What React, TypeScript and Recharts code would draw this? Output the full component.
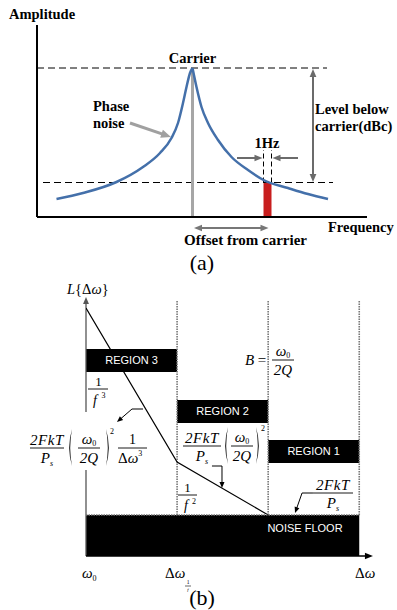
import {
  ComposedChart, Line, XAxis, YAxis, ReferenceLine, ReferenceArea,
} from 'recharts';

const SERIF = '"Liberation Serif", "Times New Roman", Times, serif';
const SANS = '"Liberation Sans", Arial, Helvetica, sans-serif';

// (a) spectrum around the carrier, offset vs amplitude (arbitrary units)
const lowerOffsets = [-136, -109.5, -76, -49.5, -32.5, -21, -14.5, -9.5, -6, -2.5, 0];
const lowerLevels = [18, 24, 35, 50, 64, 79, 94, 114, 130, 144, 149];
const upperOffsets = [0, 4, 9, 15.5, 25.5, 39, 55.5, 72, 95.5, 115.5, 135.5];
const upperLevels = [149, 130, 110, 94, 77, 60, 47, 36.5, 29, 23, 18];

const offsetRange = [-155.5, 174.5];
const ampRange = [0, 192];
const carrierLevel = 149;
const sliceLevel = 34.5;
const sliceFrom = 71;
const sliceTo = 79;

// (b) asymptotic phase-noise regions
const regionNames = ['REGION 3', 'REGION 2', 'REGION 1'];
const regionEdges = [0, 1, 2, 3];
const regionTops = [103.5, 78, 58];
const regionBottoms = [92, 66.5, 46.5];
const asymOffsets = [0, 1, 2];
const asymLevels = [124, 47, 20.5];
const noiseFloor = 20.5;

const zip = (xs: number[], ys: number[], kx: string, ky: string) =>
  xs.map((x, i) => ({ [kx]: x, [ky]: ys[i] }));

const lowerWing = zip(lowerOffsets, lowerLevels, 'f', 'amp');
const upperWing = zip(upperOffsets, upperLevels, 'f', 'amp');
const asymptote = zip(asymOffsets, asymLevels, 'off', 'lvl');

// line with filled arrow heads, used as a ReferenceLine shape
function arrow(color: string, width: number, head: number, both = false) {
  return (p: any) => {
    const { x1, y1, x2, y2 } = p;
    const a = Math.atan2(y2 - y1, x2 - x1);
    const w = head * 0.42;
    const tri = (x: number, y: number, ang: number) => {
      const bx = x - head * Math.cos(ang);
      const by = y - head * Math.sin(ang);
      return `${x},${y} ${bx + w * Math.sin(ang)},${by - w * Math.cos(ang)} ${bx - w * Math.sin(ang)},${by + w * Math.cos(ang)}`;
    };
    const ex = x2 - head * 0.8 * Math.cos(a);
    const ey = y2 - head * 0.8 * Math.sin(a);
    const sx = both ? x1 + head * 0.8 * Math.cos(a) : x1;
    const sy = both ? y1 + head * 0.8 * Math.sin(a) : y1;
    return (
      <g>
        <line x1={sx} y1={sy} x2={ex} y2={ey} stroke={color} strokeWidth={width} />
        <polygon points={tri(x2, y2, a)} fill={color} />
        {both && <polygon points={tri(x1, y1, a + Math.PI)} fill={color} />}
      </g>
    );
  };
}

function Tx({ x, y, size = 15, italic = false, bold = false, anchor = 'start', fill = '#000', family = SERIF, children }: any) {
  return (
    <text x={x} y={y} fontSize={size} fontStyle={italic ? 'italic' : 'normal'} fontWeight={bold ? 'bold' : 'normal'}
      textAnchor={anchor} fill={fill} fontFamily={family}>
      {children}
    </text>
  );
}

const Bar = ({ x1, x2, y }: any) => <line x1={x1} x2={x2} y1={y} y2={y} stroke="#000" strokeWidth={0.9} />;

function Paren({ x, y0, y1, right = false }: any) {
  const m = (y0 + y1) / 2;
  const d = right ? -1 : 1;
  return <path d={`M ${x} ${y0} Q ${x - 5.5 * d} ${m} ${x} ${y1} Q ${x - 3.6 * d} ${m} ${x} ${y0} Z`} fill="#000" />;
}

// 2FkT / Ps
function KT({ cx, y, half }: any) {
  return (
    <g>
      <text x={cx} y={y - 3.5} textAnchor="middle" fontFamily={SERIF} fontStyle="italic" fontSize={15} letterSpacing={0.6}>2FkT</text>
      <Bar x1={cx - half} x2={cx + half} y={y} />
      <text x={cx} y={y + 15} textAnchor="middle" fontFamily={SERIF} fontStyle="italic" fontSize={15}>
        P<tspan fontSize={8} dy={3}>s</tspan>
      </text>
    </g>
  );
}

// omega_0 / 2Q
function W0Q({ cx, y, half = 11 }: any) {
  return (
    <g>
      <text x={cx} y={y - 4} textAnchor="middle" fontFamily={SERIF} fontSize={15}>
        <tspan fontStyle="italic">ω</tspan><tspan fontSize={8} dy={2}>0</tspan>
      </text>
      <Bar x1={cx - half} x2={cx + half} y={y} />
      <text x={cx} y={y + 15} textAnchor="middle" fontFamily={SERIF} fontStyle="italic" fontSize={15}>2Q</text>
    </g>
  );
}

export default function App() {
  const [f0, f1] = offsetRange;
  const [a0, a1] = ampRange;
  return (
    <div style={{ position: 'absolute', left: 0, top: 0, width: 397, height: 610, background: '#fff' }}>
      <div style={{ position: 'absolute', left: 0, top: 0 }}>
        <ComposedChart width={397} height={280} margin={{ top: 25, right: 30, bottom: 63, left: 37 }}>
          <XAxis dataKey="f" type="number" domain={offsetRange} allowDataOverflow tick={false} tickLine={false} axisLine={false} height={0} />
          <YAxis type="number" domain={ampRange} allowDataOverflow tick={false} tickLine={false} axisLine={false} width={0} />
          <ReferenceArea x1={sliceFrom} x2={sliceTo} y1={0} y2={sliceLevel} fill="#c81e1e" fillOpacity={1} stroke="none" />
          <ReferenceLine segment={[{ x: f0, y: carrierLevel }, { x: 134.5, y: carrierLevel }]} stroke="#000" strokeDasharray="7 4" strokeWidth={1} />
          <ReferenceLine segment={[{ x: -149.5, y: sliceLevel }, { x: 140.5, y: sliceLevel }]} stroke="#000" strokeDasharray="7 4" strokeWidth={1} />
          <ReferenceLine segment={[{ x: sliceFrom, y: sliceLevel }, { x: sliceFrom, y: 67 }]} stroke="#000" strokeDasharray="5 3" strokeWidth={1} />
          <ReferenceLine segment={[{ x: sliceTo, y: sliceLevel }, { x: sliceTo, y: 67 }]} stroke="#000" strokeDasharray="5 3" strokeWidth={1} />
          <ReferenceLine segment={[{ x: 0, y: a0 }, { x: 0, y: carrierLevel }]} stroke="#a6a6a6" strokeWidth={3} />
          {/* axes */}
          <ReferenceLine segment={[{ x: f0, y: a0 }, { x: f0, y: a1 }]} stroke="#000" strokeWidth={2} />
          <ReferenceLine segment={[{ x: f0, y: a0 }, { x: f1, y: a0 }]} stroke="#000" strokeWidth={2} />
          <Line data={lowerWing} dataKey="amp" type="monotone" stroke="#4470aa" strokeWidth={2.5} dot={false} isAnimationActive={false} />
          <Line data={upperWing} dataKey="amp" type="monotone" stroke="#4470aa" strokeWidth={2.5} dot={false} isAnimationActive={false} />
          <ReferenceLine segment={[{ x: -62.5, y: 94 }, { x: -21.5, y: 80 }]} shape={arrow('#a0a0a0', 3, 10)} />
          <ReferenceLine segment={[{ x: 120.5, y: 148 }, { x: 120.5, y: 35 }]} shape={arrow('#6b6b6b', 2, 8, true)} />
          <ReferenceLine segment={[{ x: 44.5, y: 59 }, { x: 70, y: 59 }]} shape={arrow('#6b6b6b', 2, 8)} />
          <ReferenceLine segment={[{ x: 105.5, y: 59 }, { x: 80, y: 59 }]} shape={arrow('#6b6b6b', 2, 8)} />
          <ReferenceLine segment={[{ x: 1.5, y: -11 }, { x: 76, y: -11 }]} ifOverflow="visible" shape={arrow('#777', 2, 8, true)} />
        </ComposedChart>
      </div>

      <div style={{ position: 'absolute', left: 0, top: 280 }}>
        <ComposedChart width={397} height={330} margin={{ top: 20, right: 25, bottom: 54, left: 86 }}>
          <XAxis dataKey="off" type="number" domain={[0, 3.14]} allowDataOverflow tick={false} tickLine={false} axisLine={false} height={0} />
          <YAxis type="number" domain={[0, 128]} allowDataOverflow tick={false} tickLine={false} axisLine={false} width={0} />
          {regionEdges.slice(1).map((e) => (
            <ReferenceLine key={e} segment={[{ x: e, y: noiseFloor }, { x: e, y: 128 }]} stroke="#777" strokeDasharray="1.5 1" strokeWidth={1.6} />
          ))}
          <ReferenceLine segment={[{ x: 0, y: 0 }, { x: 0, y: 129.5 }]} ifOverflow="visible" shape={arrow('#555', 1.3, 7)} />
          <Line data={asymptote} dataKey="lvl" type="linear" stroke="#000" strokeWidth={1.2} dot={false} isAnimationActive={false} />
          {regionNames.map((name, i) => (
            <ReferenceArea key={name} x1={regionEdges[i]} x2={regionEdges[i + 1]} y1={regionBottoms[i]} y2={regionTops[i]}
              fill="#000" fillOpacity={1} stroke="none"
              label={{ value: name, position: 'center', fill: '#fff', fontSize: 11, fontFamily: SANS }} />
          ))}
          <ReferenceArea x1={regionEdges[0]} x2={regionEdges[3]} y1={0} y2={noiseFloor} fill="#000" fillOpacity={1} stroke="none" />
          <ReferenceLine segment={[{ x: 0, y: noiseFloor }, { x: 3, y: noiseFloor }]} stroke="#777" strokeDasharray="1.5 1" strokeWidth={1.6} />
          <ReferenceLine segment={[{ x: 0, y: 0 }, { x: 3.15, y: 0 }]} ifOverflow="visible" shape={arrow('#000', 1.5, 8)} />
          <ReferenceLine segment={[{ x: 0.626, y: 73.5 }, { x: 0.505, y: 73.5 }]} stroke="#000" strokeWidth={1} />
          <ReferenceLine segment={[{ x: 0.505, y: 73.5 }, { x: 0.34, y: 67 }]} shape={arrow('#000', 1, 6)} />
          <ReferenceLine segment={[{ x: 1.383, y: 45 }, { x: 1.493, y: 45 }]} stroke="#000" strokeWidth={1} />
          <ReferenceLine segment={[{ x: 1.493, y: 45 }, { x: 1.493, y: 34 }]} shape={arrow('#000', 1, 6)} />
          <ReferenceLine segment={[{ x: 2.492, y: 31.5 }, { x: 2.372, y: 31.5 }]} stroke="#000" strokeWidth={1} />
          <ReferenceLine segment={[{ x: 2.372, y: 31.5 }, { x: 2.295, y: 21.5 }]} shape={arrow('#000', 1, 6)} />
        </ComposedChart>
      </div>

      <svg width={397} height={610} style={{ position: 'absolute', left: 0, top: 0, pointerEvents: 'none' }}>
        {/* (a) labels */}
        <Tx x={9} y={19} size={14.5} bold>Amplitude</Tx>
        <Tx x={192.5} y={63} size={14.5} bold anchor="middle">Carrier</Tx>
        <Tx x={93} y={111} size={14.5} bold>Phase</Tx>
        <Tx x={93} y={128} size={14.5} bold>noise</Tx>
        <Tx x={267} y={148} size={14.5} bold anchor="middle">1Hz</Tx>
        <Tx x={315} y={114} size={14.5} bold>Level below</Tx>
        <Tx x={315} y={131} size={14.5} bold>carrier(dBc)</Tx>
        <Tx x={328} y={232} size={14.5} bold>Frequency</Tx>
        <Tx x={245.5} y={245} size={15} bold anchor="middle">Offset from carrier</Tx>
        <Tx x={202} y={270} size={22} anchor="middle">(a)</Tx>

        {/* (b) labels */}
        <text x={67} y={294} fontFamily={SERIF} fontSize={14.5}>
          <tspan fontStyle="italic">L</tspan>{'{Δ'}<tspan fontStyle="italic">ω</tspan>{'}'}
        </text>

        <Tx x={98.5} y={386} size={13} anchor="middle">1</Tx>
        <Bar x1={88} x2={108} y={389} />
        <Tx x={95} y={405} size={14} italic anchor="middle">f</Tx>
        <Tx x={101.5} y={398} size={8}>3</Tx>

        <Tx x={187.5} y={492} size={13} anchor="middle">1</Tx>
        <Bar x1={178} x2={197} y={495} />
        <Tx x={186} y={510} size={14} italic anchor="middle">f</Tx>
        <Tx x={192} y={504} size={8}>2</Tx>

        <Tx x={245} y={365} size={15} italic>B</Tx>
        <Tx x={262} y={365} size={15} anchor="middle">=</Tx>
        <W0Q cx={283} y={360} />

        {/* region 3 expression, over the axis */}
        <rect x={24} y={412} width={92} height={58} fill="#fff" />
        <KT cx={47} y={448} half={17} />
        <Paren x={72} y0={429} y1={466} />
        <W0Q cx={89} y={448} />
        <Paren x={106} y0={429} y1={466} right />
        <Tx x={110} y={434} size={8}>2</Tx>
        <Tx x={132.5} y={444} size={14} anchor="middle">1</Tx>
        <Bar x1={118} x2={147} y={448} />
        <text x={118} y={463} fontFamily={SERIF} fontSize={15}>
          Δ<tspan fontStyle="italic">ω</tspan><tspan fontSize={8} dy={-7}>3</tspan>
        </text>

        {/* region 2 expression */}
        <KT cx={202} y={446} half={19} />
        <Paren x={228} y0={427} y1={464} />
        <W0Q cx={242} y={446} />
        <Paren x={256} y0={427} y1={464} right />
        <Tx x={261} y={431} size={8}>2</Tx>

        {/* region 1 expression */}
        <KT cx={333} y={493} half={20} />

        <Tx x={305} y={532} size={11} family={SANS} fill="#fff" anchor="middle">NOISE FLOOR</Tx>

        <text x={82} y={578} fontFamily={SERIF} fontSize={15}>
          <tspan fontStyle="italic">ω</tspan><tspan fontSize={8} dy={3}>0</tspan>
        </text>
        <text x={165} y={578} fontFamily={SERIF} fontSize={15}>
          Δ<tspan fontStyle="italic">ω</tspan>
        </text>
        <Tx x={188} y={584} size={5.5} anchor="middle">1</Tx>
        <line x1={185} x2={191} y1={586} y2={586} stroke="#000" strokeWidth={0.6} />
        <Tx x={188} y={591} size={5} italic anchor="middle">f</Tx>
        <text x={355} y={578} fontFamily={SERIF} fontSize={15}>
          Δ<tspan fontStyle="italic">ω</tspan>
        </text>
        <Tx x={202} y={605} size={22} anchor="middle">(b)</Tx>
      </svg>
    </div>
  );
}
